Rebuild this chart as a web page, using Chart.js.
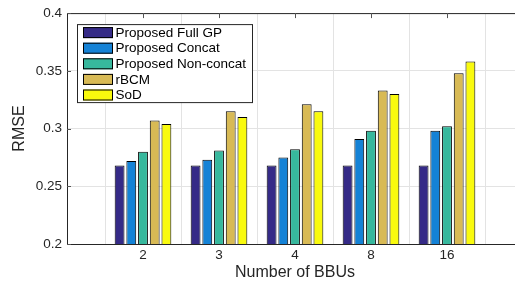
<!DOCTYPE html>
<html>
<head>
<meta charset="utf-8">
<script src="https://cdn.jsdelivr.net/npm/chart.js@4/dist/chart.umd.min.js"></script>
<style>
  html, body { margin: 0; padding: 0; background: #fff; overflow: hidden; }
  #grafica { display: block; }
</style>
</head>
<body>
<canvas id="grafica" width="526" height="281"></canvas>
<script>
// numero de BBUs
var categorias = ['2', '3', '4', '8', '16'];

var fullGP    = [0.268, 0.268, 0.268, 0.268, 0.268];
var concat    = [0.272, 0.273, 0.275, 0.291, 0.298];
var nonConcat = [0.280, 0.281, 0.282, 0.298, 0.302];
var rBCM      = [0.307, 0.315, 0.321, 0.333, 0.348];
var soD       = [0.304, 0.310, 0.315, 0.330, 0.358];

var ticksY = [0.2, 0.25, 0.3, 0.35, 0.4];

var fuente = 'Liberation Sans, Arial, Helvetica, sans-serif';
var gris = '#262626';

function serie(label, valores, color) {
    return {
        label: label,
        data: valores.map(function (v, i) { return { x: i + 1, y: v }; }),
        backgroundColor: color,
        borderColor: '#000',
        borderWidth: 1,
        borderSkipped: false,
        categoryPercentage: 0.77,
        barPercentage: 0.84
    };
}

var data = {
    datasets: [
        serie('Proposed Full GP', fullGP, '#352a87'),
        serie('Proposed Concat', concat, '#1482d6'),
        serie('Proposed Non-concat', nonConcat, '#37b89d'),
        serie('rBCM', rBCM, '#d8ba55'),
        serie('SoD', soD, '#f9fa0e')
    ]
};

// leyenda y marco estilo matlab
var marco = {
    id: 'marco',
    afterDraw: function (chart) {
        var ctx = chart.ctx;
        var area = chart.chartArea;
        var sx = chart.scales.x, sy = chart.scales.y;
        ctx.save();
        ctx.strokeStyle = gris;
        ctx.lineWidth = 1;
        ctx.beginPath();
        ctx.moveTo(area.left, area.top + 0.5);
        ctx.lineTo(area.right, area.top + 0.5);
        ctx.stroke();
        ctx.strokeStyle = '#555';
        ctx.beginPath();
        for (var i = 1; i <= categorias.length; i++) {
            var px = Math.round(sx.getPixelForValue(i)) + 0.5;
            ctx.moveTo(px, area.top);
            ctx.lineTo(px, area.top + 5);
        }
        ticksY.forEach(function (t) {
            var py = Math.round(sy.getPixelForValue(t)) + 0.5;
            ctx.moveTo(area.left, py);
            ctx.lineTo(area.left + 4, py);
        });
        ctx.stroke();

        // leyenda
        var lx = area.left + 10, ly = area.top + 11;
        var ancho = 175, alto = 78, paso = 15.6;
        ctx.fillStyle = '#fff';
        ctx.fillRect(lx, ly, ancho, alto);
        ctx.strokeStyle = gris;
        ctx.strokeRect(lx + 0.5, ly + 0.5, ancho, alto);
        ctx.font = '13.5px ' + fuente;
        ctx.textBaseline = 'middle';
        chart.data.datasets.forEach(function (ds, k) {
            var cy = ly + 8 + k * paso;
            ctx.fillStyle = ds.backgroundColor;
            ctx.fillRect(lx + 6, cy - 5, 30, 11);
            ctx.strokeStyle = '#000';
            ctx.strokeRect(lx + 6.5, cy - 4.5, 29, 10);
            ctx.fillStyle = '#000';
            ctx.fillText(ds.label, lx + 38.5, cy + 1);
        });
        ctx.restore();
    }
};

var config = {
    type: 'bar',
    data: data,
    options: {
        responsive: false,
        animation: false,
        layout: { padding: { top: 11, right: 3, left: 0, bottom: 0 } },
        plugins: {
            legend: { display: false },
            tooltip: { enabled: false }
        },
        scales: {
            x: {
                type: 'linear',
                min: 0,
                max: 6,
                offset: false,
                afterFit: function (s) { s.height = 37; },
                afterBuildTicks: function (s) {
                    s.ticks = [0, 1, 2, 3, 4, 5, 6].map(function (v) { return { value: v }; });
                },
                ticks: {
                    stepSize: 1,
                    autoSkip: false,
                    maxRotation: 0,
                    padding: 3,
                    color: gris,
                    font: { family: fuente, size: 13.5 },
                    callback: function (v) { return categorias[v - 1] || ''; }
                },
                grid: { color: '#e3e3e3', drawTicks: false },
                border: { color: gris },
                title: {
                    display: true,
                    text: 'Number of BBUs',
                    color: gris,
                    font: { family: fuente, size: 16, lineHeight: 1 },
                    padding: { top: 0, bottom: 0 }
                }
            },
            y: {
                min: 0.2,
                max: 0.4,
                afterFit: function (s) { s.width = 67; },
                afterBuildTicks: function (s) {
                    s.ticks = ticksY.map(function (v) { return { value: v }; });
                },
                ticks: {
                    padding: 5,
                    color: gris,
                    font: { family: fuente, size: 13.5 },
                    callback: function (v) { return String(Math.round(v * 100) / 100); }
                },
                grid: { color: '#e3e3e3', drawTicks: false },
                border: { color: gris },
                title: {
                    display: true,
                    text: 'RMSE',
                    color: gris,
                    font: { family: fuente, size: 16, lineHeight: 1.2 },
                    padding: { top: 10, bottom: 0 }
                }
            }
        }
    },
    plugins: [marco]
};

var grafica = new Chart(document.getElementById('grafica'), config);
</script>
</body>
</html>
